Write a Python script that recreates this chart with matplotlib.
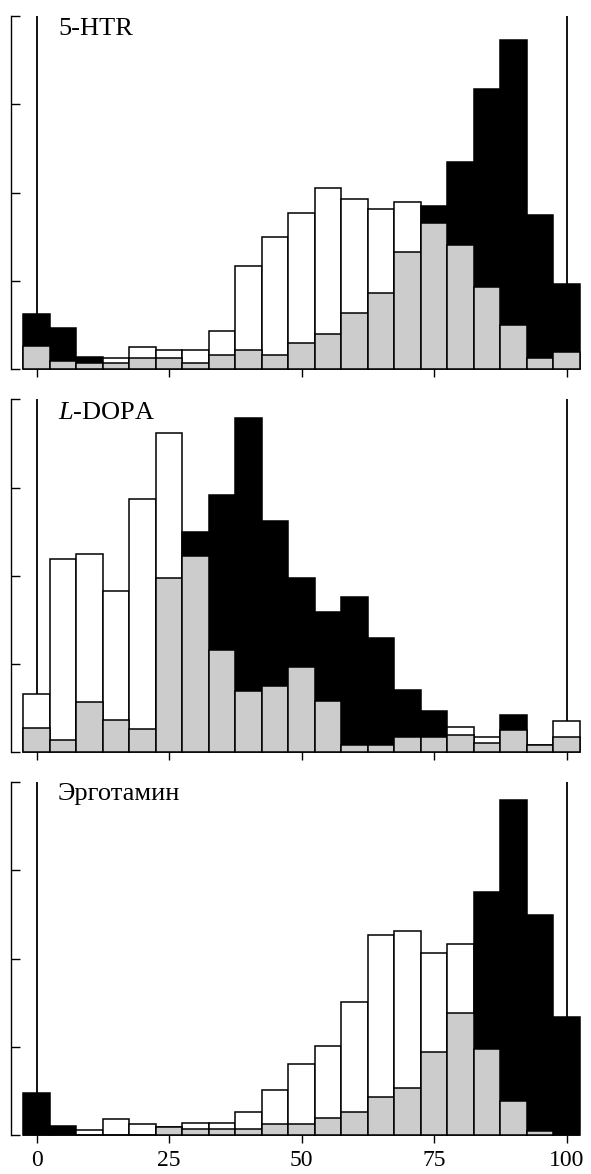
import matplotlib
matplotlib.use("Agg")
import matplotlib.pyplot as plt
import numpy as np

plt.rcParams['font.family'] = ['Liberation Serif', 'DejaVu Serif']
plt.rcParams['mathtext.fontset'] = 'custom'
plt.rcParams['mathtext.rm'] = 'Liberation Serif'
plt.rcParams['mathtext.it'] = 'Liberation Serif:italic'

bins = [0, 5, 10, 15, 20, 25, 30, 35, 40, 45, 50, 55, 60, 65, 70, 75, 80, 85, 90, 95, 100]

# 5-HTR
htr_total = [0.62, 0.46, 0.14, 0.12, 0.245, 0.21, 0.21, 0.43, 1.17, 1.50, 1.77, 2.05, 1.93, 1.81, 1.89,
             1.85, 2.35, 3.17, 3.73, 1.74, 0.96]
htr_gray = [0.26, 0.094, 0.071, 0.064, 0.128, 0.128, 0.064, 0.159, 0.215, 0.155, 0.30, 0.40, 0.63, 0.86, 1.33,
            1.66, 1.41, 0.93, 0.50, 0.13, 0.196]
htr_black = [1, 1, 1, 0, 0, 0, 0, 0, 0, 0, 0, 0, 0, 0, 0, 1, 1, 1, 1, 1, 1]

# L-DOPA
dopa_total = [0.66, 2.19, 2.25, 1.83, 2.87, 3.62, 2.50, 2.92, 3.79, 2.62, 1.98, 1.59, 1.76, 1.29, 0.71,
              0.47, 0.29, 0.17, 0.42, 0.083, 0.35]
dopa_gray = [0.27, 0.14, 0.57, 0.37, 0.26, 1.98, 2.23, 1.16, 0.69, 0.75, 0.97, 0.58, 0.083, 0.083, 0.17,
             0.17, 0.196, 0.11, 0.25, 0.083, 0.176]
dopa_black = [0, 0, 0, 0, 0, 0, 1, 1, 1, 1, 1, 1, 1, 1, 1, 1, 0, 0, 1, 0, 0]

# Эрготамин
ergo_total = [0.48, 0.105, 0.057, 0.18, 0.13, 0.094, 0.14, 0.14, 0.26, 0.51, 0.80, 1.01, 1.51, 2.27, 2.31,
              2.06, 2.16, 2.75, 3.80, 2.49, 1.34]
ergo_gray = [0.0, 0.0, 0.0, 0.0, 0.0, 0.094, 0.064, 0.064, 0.064, 0.125, 0.125, 0.196, 0.26, 0.43, 0.53,
             0.94, 1.38, 0.97, 0.385, 0.045, 0.0]
ergo_black = [1, 1, 0, 0, 0, 0, 0, 0, 0, 0, 0, 0, 0, 0, 0, 0, 0, 1, 1, 1, 1]

panels = [
    ("5-HTR", htr_total, htr_gray, htr_black, 3.79),
    ("$\\mathit{L}$-DOPA", dopa_total, dopa_gray, dopa_black, 3.78),
    ("Эрготамин", ergo_total, ergo_gray, ergo_black, 3.80),
]

xticks = [0, 25, 50, 75, 100]

fig = plt.figure(figsize=(5.91, 11.74), dpi=100)
H = 1174.0
W = 591.0
bottoms_px = [369.0, 752.3, 1135.0]
height_px = 353.0
left_px = 11.0
x0_px = 36.7
ppu = 5.30
xmin = (left_px - x0_px) / ppu
xmax = (W - x0_px) / ppu

for i, (name, total, gray, black, ty) in enumerate(panels):
    b = bottoms_px[i]
    ax = fig.add_axes([left_px / W, 1 - b / H, (W - left_px) / W, height_px / H])
    ax.set_xlim(xmin, xmax)
    ax.set_ylim(0, 4)
    # vertical reference lines at 0 and 100
    ax.vlines([bins[0], bins[-1]], [total[0], total[-1]], 4, colors='black', lw=1.3, zorder=1)
    faces = ['black' if k else 'white' for k in black]
    ax.bar(bins, total, width=5, color=faces, edgecolor='black', linewidth=1.1, zorder=2, clip_on=False)
    ax.bar(bins, gray, width=5, color='#cccccc', edgecolor='black', linewidth=1.1, zorder=3, clip_on=False)
    for s in ['top', 'right', 'bottom']:
        ax.spines[s].set_visible(False)
    ax.spines['left'].set_bounds(0, 4)
    ax.spines['left'].set_linewidth(1.0)
    ax.set_yticks([0, 1, 2, 3, 4])
    ax.set_yticklabels([])
    ax.tick_params(axis='y', direction='in', length=6.5, width=1.0)
    ax.set_xticks(xticks)
    ax.tick_params(axis='x', direction='out', length=6, width=1.0, pad=5, labelsize=17)
    if i < 2:
        ax.set_xticklabels([])
    else:
        ax.set_xticklabels([str(t) for t in xticks])
    ax.text(4.0, ty, name, fontsize=19, ha='left', va='baseline')

fig.savefig("out.png", dpi=100)
